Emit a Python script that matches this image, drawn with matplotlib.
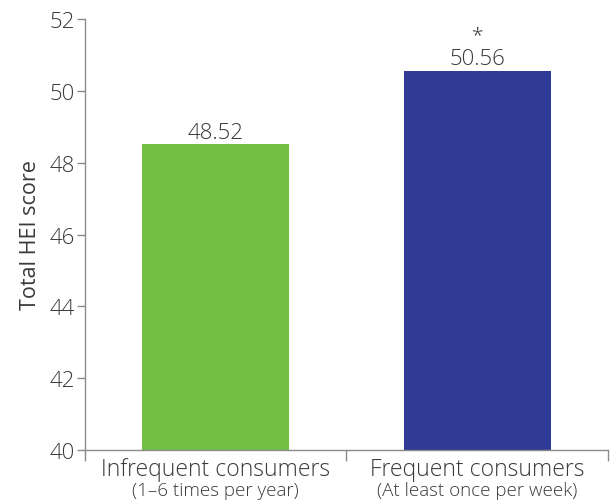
import matplotlib.pyplot as plt

categories = ['Infrequent consumers', 'Frequent consumers']
subtitles = ['(1–6 times per year)', '(At least once per week)']
values = [48.52, 50.56]
value_labels = ['48.52', '50.56']
marks = ['', '*']
colors = ['#72bf44', '#303b96']
yticks = [40, 42, 44, 46, 48, 50, 52]

plt.rcParams['font.family'] = ['Open Sans', 'DejaVu Sans']
plt.rcParams['font.weight'] = 'light'
text_color = '#3a3a3a'
spine_color = '#8a8a8a'

fig = plt.figure(figsize=(6.1, 5.02), dpi=100, facecolor='white')
ax = fig.add_axes([0.139, 0.1016, 0.858, 0.8584])

x = [0.5, 1.5]
ax.bar(x, [v - 40 for v in values], bottom=40, width=0.56, color=colors)

for xi, v, lab, m in zip(x, values, value_labels, marks):
    ax.text(xi, v + 0.04, lab, ha='center', va='bottom', fontsize=16, color=text_color)
    if m:
        ax.text(xi, v + 0.72, m, ha='center', va='bottom', fontsize=15, color=text_color)

ax.set_xlim(0, 2)
ax.set_ylim(40, 52)
ax.set_yticks(yticks)
ax.set_yticklabels([str(t) for t in yticks], fontsize=16, color=text_color)
ax.set_xticks([0, 1, 2])
ax.set_xticklabels([])
ax.tick_params(axis='y', length=6, color=spine_color, width=1, pad=1)
ax.tick_params(axis='x', length=8, color=spine_color, width=1)

for xi, c, s in zip(x, categories, subtitles):
    ax.text(xi, -0.044, c, transform=ax.get_xaxis_transform(), ha='center', va='center',
            fontsize=16.5, color=text_color)
    ax.text(xi, -0.092, s, transform=ax.get_xaxis_transform(), ha='center', va='center',
            fontsize=13.5, color=text_color)

ax.set_ylabel('Total HEI score', fontsize=15.5, color=text_color, labelpad=6)

for side in ['top', 'right']:
    ax.spines[side].set_visible(False)
for side in ['left', 'bottom']:
    ax.spines[side].set_color(spine_color)
    ax.spines[side].set_linewidth(1)

plt.savefig('out.png', dpi=100, facecolor='white')
